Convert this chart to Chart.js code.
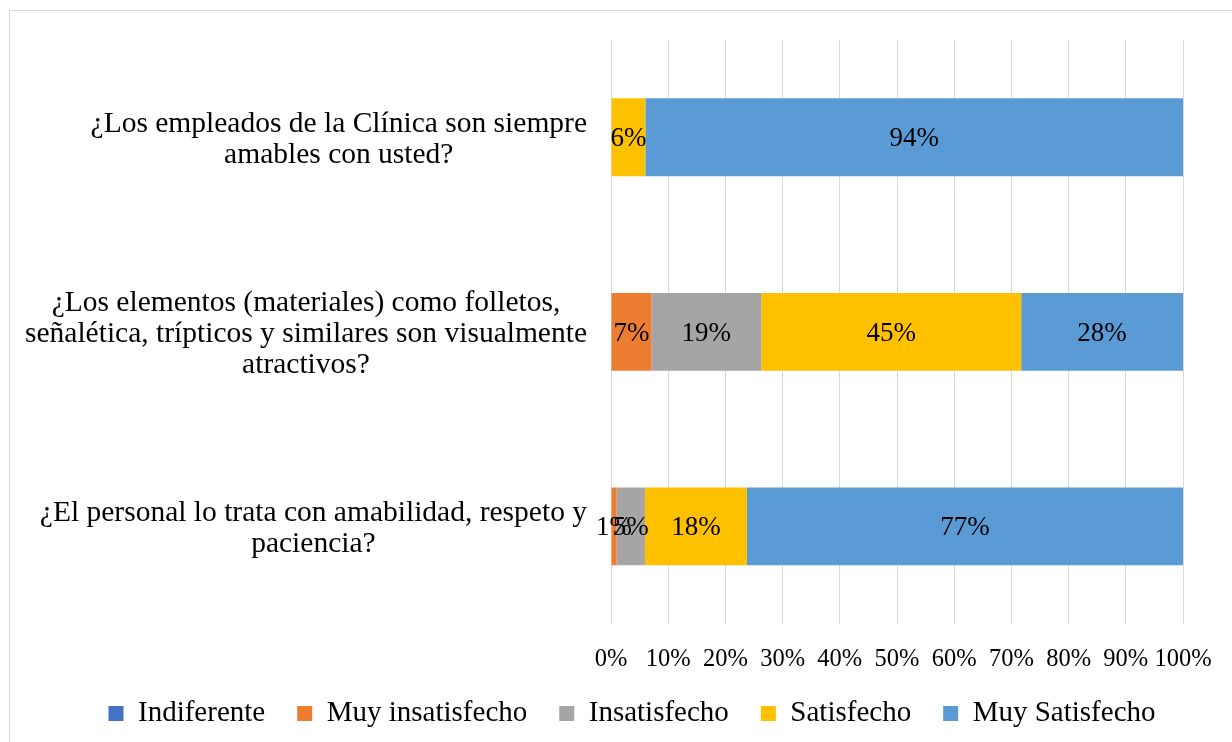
<!DOCTYPE html>
<html>
<head>
<meta charset="utf-8">
<script src="https://cdn.jsdelivr.net/npm/chart.js@4.4.1/dist/chart.umd.min.js"></script>
<style>
  html, body { margin: 0; padding: 0; background: #fff; overflow: hidden; }
  #box {
    position: absolute; left: 9px; top: 10px;
    width: 1244px; height: 760px;
    border: 1px solid #d9d9d9;
  }
</style>
</head>
<body>
<div id="box"><canvas id="barChartSatisfaccion" width="1244" height="731"></canvas></div>
<script>
// preguntas de la encuesta (una entrada por barra, partida en lineas)
var preguntas = [
    ['¿Los empleados de la Clínica son siempre', 'amables con usted?'],
    ['¿Los elementos (materiales) como folletos,', 'señalética, trípticos y similares son visualmente', 'atractivos?'],
    ['¿El personal lo trata con amabilidad, respeto y', 'paciencia?']
]

// porcentajes de respuesta por pregunta
var indiferente = [0, 0, 0]
var muyInsatisfecho = [0, 7, 1]
var insatisfecho = [0, 19, 5]
var satisfecho = [6, 45, 18]
var muySatisfecho = [94, 28, 77]

var ticksX = [0, 10, 20, 30, 40, 50, 60, 70, 80, 90, 100]

var series = [
    { label: 'Indiferente', values: indiferente, color: '#4472C4' },
    { label: 'Muy insatisfecho', values: muyInsatisfecho, color: '#ED7D31' },
    { label: 'Insatisfecho', values: insatisfecho, color: '#A5A5A5' },
    { label: 'Satisfecho', values: satisfecho, color: '#FFC000' },
    { label: 'Muy Satisfecho', values: muySatisfecho, color: '#5B9BD5' }
]

// barras al 100%: cada valor se reparte sobre el total de su fila
var totales = preguntas.map(function (p, i) {
    return series.reduce(function (s, d) { return s + d.values[i] }, 0)
})

var FONT = '"Liberation Serif", "Times New Roman", serif'
Chart.defaults.font.family = FONT
Chart.defaults.color = '#000'

// etiquetas de valor dentro de cada segmento
var valueLabels = {
    id: 'valueLabels',
    afterDatasetsDraw: function (chart) {
        var ctx = chart.ctx
        ctx.save()
        ctx.font = '27px ' + FONT
        ctx.fillStyle = '#000'
        ctx.textAlign = 'center'
        ctx.textBaseline = 'middle'
        series.forEach(function (s, i) {
            chart.getDatasetMeta(i).data.forEach(function (bar, j) {
                var v = s.values[j]
                if (!v) return
                var c = bar.getCenterPoint()
                ctx.fillText(v + '%', c.x, c.y + 2)
            })
        })
        ctx.restore()
    }
}

// textos de las preguntas, centrados por bloque y alineados a la derecha
var questionLabels = {
    id: 'questionLabels',
    afterDraw: function (chart) {
        var ctx = chart.ctx
        var yScale = chart.scales.y
        var right = chart.chartArea.left - 24
        var lh = 31
        ctx.save()
        ctx.font = '29.5px ' + FONT
        ctx.fillStyle = '#000'
        ctx.textAlign = 'center'
        ctx.textBaseline = 'middle'
        preguntas.forEach(function (lines, i) {
            var widest = Math.max.apply(null, lines.map(function (l) { return ctx.measureText(l).width }))
            var cx = right - widest / 2
            var cy = yScale.getPixelForTick(i) + 2
            var y0 = cy - (lines.length - 1) * lh / 2
            lines.forEach(function (l, k) {
                ctx.fillText(l, cx, y0 + k * lh)
            })
        })
        ctx.restore()
    }
}

var barChartCanvas = document.getElementById('barChartSatisfaccion').getContext('2d')

var barChartData = {
    labels: preguntas,
    datasets: series.map(function (s) {
        return {
            label: s.label,
            data: s.values.map(function (v, i) { return v / totales[i] * 100 }),
            backgroundColor: s.color,
            borderWidth: 0,
            barPercentage: 0.4,
            categoryPercentage: 1
        }
    })
}

var barChartOptions = {
    indexAxis: 'y',
    responsive: false,
    maintainAspectRatio: false,
    animation: false,
    layout: { padding: { top: 29, left: 0, right: 0, bottom: 4 } },
    scales: {
        x: {
            stacked: true,
            min: 0,
            max: 100,
            border: { display: false },
            grid: { color: '#d9d9d9', lineWidth: 1, drawTicks: false },
            afterBuildTicks: function (scale) {
                scale.ticks = ticksX.map(function (v) { return { value: v } })
            },
            afterFit: function (scale) {
                scale.paddingRight = 71
                scale.height -= 28
            },
            ticks: {
                padding: 21,
                font: { size: 24.5 },
                callback: function (v) { return v + '%' }
            }
        },
        y: {
            stacked: true,
            border: { display: false },
            grid: { display: false },
            ticks: { display: false },
            afterFit: function (scale) {
                scale.width = 601
            }
        }
    },
    plugins: {
        legend: {
            position: 'bottom',
            labels: {
                boxWidth: 15,
                boxHeight: 15,
                padding: 32,
                font: { size: 29 },
                color: '#000'
            }
        },
        tooltip: { enabled: false }
    }
}

new Chart(barChartCanvas, {
    type: 'bar',
    data: barChartData,
    options: barChartOptions,
    plugins: [valueLabels, questionLabels]
})
</script>
</body>
</html>
